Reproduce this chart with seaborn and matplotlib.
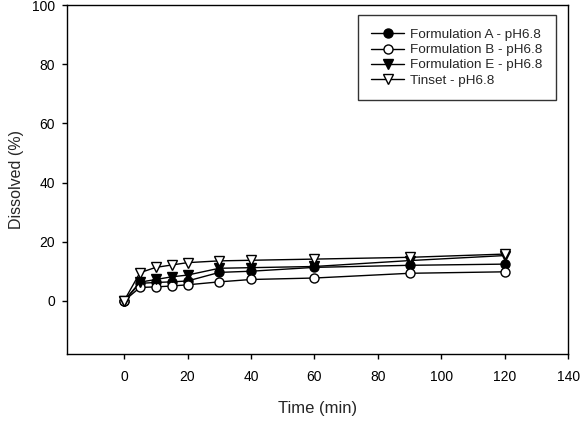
import numpy as np
import matplotlib
matplotlib.use("Agg")
import matplotlib.pyplot as plt
import pandas as pd
import seaborn as sns

time_min = [0, 5, 10, 15, 20, 30, 40, 60, 90, 120]
form_a = [0, 5.9, 6.2, 6.4, 6.7, 9.6, 10.0, 11.3, 12.0, 12.4]
form_b = [0, 4.5, 4.7, 5.0, 5.4, 6.4, 7.2, 7.7, 9.3, 9.8]
form_e = [0, 6.3, 7.2, 8.1, 8.7, 11.0, 11.2, 11.6, 13.6, 15.3]
tinset = [0, 9.5, 11.3, 12.1, 12.9, 13.5, 13.7, 14.1, 14.7, 15.8]

labels = ["Formulation A - pH6.8", "Formulation B - pH6.8",
          "Formulation E - pH6.8", "Tinset - pH6.8"]
series = [form_a, form_b, form_e, tinset]
markers = ["o", "o", "v", "v"]
faces = ["black", "white", "black", "white"]

sns.set_style("ticks")
plt.rcParams['font.family'] = ['Liberation Sans', 'DejaVu Sans']

fig = plt.figure(figsize=(5.85, 4.26), dpi=100)
ax = fig.add_axes([0.1145, 0.169, 0.857, 0.819])

for lab, vals, m, fc in zip(labels, series, markers, faces):
    df = pd.DataFrame({"time": time_min, "dissolved": vals})
    sns.lineplot(data=df, x="time", y="dissolved", ax=ax, color="black",
                 linewidth=1, marker=m, markersize=6.5, markerfacecolor=fc,
                 markeredgecolor="black", markeredgewidth=1, label=lab)

ax.set_xlim(-18, 140)
ax.set_ylim(-18, 100)
ax.set_xticks(np.arange(0, 141, 20))
ax.set_yticks(np.arange(0, 101, 20))
ax.tick_params(direction="out", length=3.6, width=1, labelsize=10, colors="black")
ax.tick_params(axis="x", pad=8)
ax.tick_params(axis="y", pad=5)
for s in ax.spines.values():
    s.set_visible(True)
    s.set_color("black")
    s.set_linewidth(1)
ax.set_xlabel("Time (min)", fontsize=12, labelpad=12)
ax.set_ylabel("Dissolved (%)", fontsize=11.5, labelpad=6)

leg = ax.legend(loc="upper right", bbox_to_anchor=(0.976, 0.971), fontsize=9.7,
                frameon=True, fancybox=False, edgecolor="black",
                handlelength=2.4, handletextpad=0.5, labelspacing=0.2,
                borderpad=1.0, borderaxespad=0)
leg.get_frame().set_linewidth(1)

fig.savefig("out.png", dpi=100)
